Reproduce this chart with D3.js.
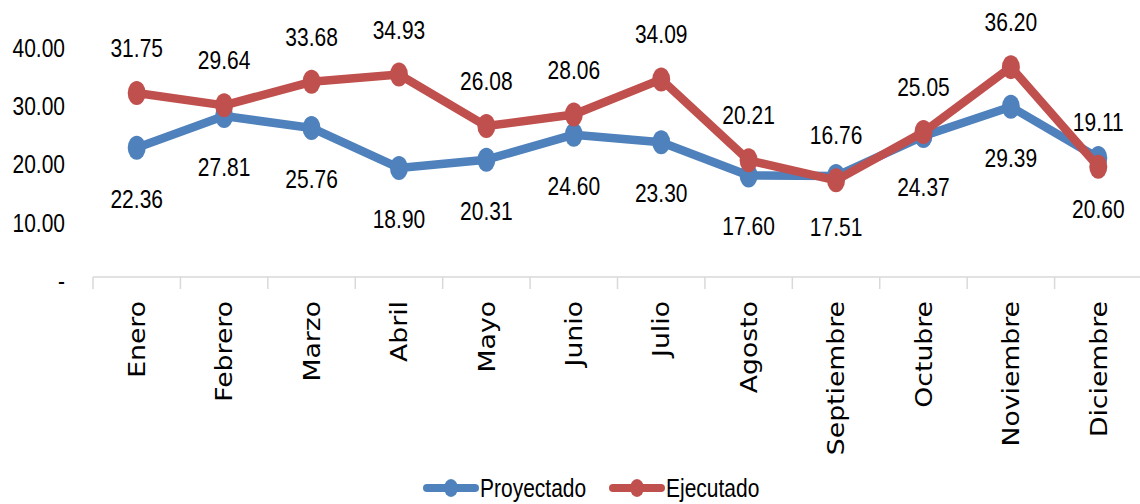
<!DOCTYPE html>
<html>
<head>
<meta charset="utf-8">
<script src="https://cdn.jsdelivr.net/npm/d3@7"></script>
<style>
    body { margin: 0; background: #fff; }
    #chart { display: block; }
    .num { font-family: "Liberation Sans", Arial, sans-serif; font-size: 25px; fill: #000; }
    .month { font-family: "DejaVu Sans", Verdana, sans-serif; font-size: 23px; fill: #000; }
</style>
</head>
<body>
<svg id="chart"></svg>
<script>

var months = ["Enero", "Febrero", "Marzo", "Abril", "Mayo", "Junio", "Julio",
    "Agosto", "Septiembre", "Octubre", "Noviembre", "Diciembre"];

var proyectado = [22.36, 27.81, 25.76, 18.90, 20.31, 24.60, 23.30, 17.60, 17.51, 24.37, 29.39, 20.60];
var ejecutado = [31.75, 29.64, 33.68, 34.93, 26.08, 28.06, 34.09, 20.21, 16.76, 25.05, 36.20, 19.11];

var yTicks = [0, 10, 20, 30, 40];

var seriesNames = ["Proyectado", "Ejecutado"];

// narrow look of the numbers, no condensed face installed
var SQUEEZE = 0.84;

class LineChart {

    constructor(id) {
        this.width = 1140;
        this.height = 504;
        this.svg = d3.select(id)
            .attr("width", this.width)
            .attr("height", this.height);

        this.x = d3.scaleBand().domain(months).range([93, 1142]);
        this.y = d3.scaleLinear().domain([0, 40]).range([278, 45]);

        this.series = [
            {name: seriesNames[0], values: proyectado, color: "#4f81bd", labelDy: 60},
            {name: seriesNames[1], values: ejecutado, color: "#c0504d", labelDy: -36}
        ];
    }

    cx(m) {
        return this.x(m) + this.x.bandwidth() / 2;
    }

    draw() {
        this._drawAxes();
        this.series.forEach(s => this._drawSeries(s));
        this._drawLegend();
    }

    _drawAxes() {
        var svg = this.svg, x = this.x, y = this.y;

        var yAxis = svg.append("g")
            .attr("transform", "translate(65,0)")
            .call(d3.axisLeft(y).tickValues(yTicks).tickSize(0).tickPadding(0)
                .tickFormat(d => d === 0 ? "-" : d3.format(".2f")(d)));
        yAxis.select(".domain").remove();
        yAxis.selectAll("text")
            .attr("class", "num")
            .attr("font-family", null)
            .attr("font-size", null)
            .attr("dy", "0.45em")
            .attr("transform", "scale(" + SQUEEZE + ",1)");

        var base = y(0) - 1;
        svg.append("line")
            .attr("x1", x.range()[0]).attr("x2", x.range()[1])
            .attr("y1", base).attr("y2", base)
            .attr("stroke", "#d9d9d9").attr("stroke-width", 1.5);

        // tick marks between the categories
        var bounds = months.map(m => x(m)).concat([x.range()[1]]);
        svg.append("g").selectAll("line")
            .data(bounds).enter().append("line")
            .attr("x1", d => d).attr("x2", d => d)
            .attr("y1", base).attr("y2", base + 12)
            .attr("stroke", "#d9d9d9").attr("stroke-width", 1.5);

        var self = this;
        svg.append("g").selectAll("text")
            .data(months).enter().append("text")
            .attr("class", "month")
            .attr("text-anchor", "end")
            .attr("dy", "0.36em")
            .attr("transform", d => "translate(" + self.cx(d) + "," + (base + 24) + ") rotate(-90) scale(1.16,1)")
            .text(d => d);
    }

    _drawSeries(s) {
        var self = this, y = this.y;
        var pts = months.map((m, i) => ({m: m, v: s.values[i]}));

        var line = d3.line()
            .x(d => self.cx(d.m))
            .y(d => y(d.v));

        var g = this.svg.append("g");

        g.append("path")
            .datum(pts)
            .attr("d", line)
            .attr("fill", "none")
            .attr("stroke", s.color)
            .attr("stroke-width", 8.5)
            .attr("stroke-linejoin", "round");

        g.selectAll("ellipse")
            .data(pts).enter().append("ellipse")
            .attr("cx", d => self.cx(d.m))
            .attr("cy", d => y(d.v))
            .attr("rx", 9)
            .attr("ry", 12)
            .attr("fill", s.color);

        this.svg.append("g").selectAll("text")
            .data(pts).enter().append("text")
            .attr("class", "num")
            .attr("text-anchor", "middle")
            .attr("transform", d => "translate(" + self.cx(d.m) + "," + (y(d.v) + s.labelDy) + ") scale(" + SQUEEZE + ",1)")
            .text(d => d3.format(".2f")(d.v));
    }

    _drawLegend() {
        var legend = this.svg.append("g").attr("transform", "translate(427,488)");
        var offsets = [0, 186];

        this.series.forEach((s, i) => {
            var item = legend.append("g").attr("transform", "translate(" + offsets[i] + ",0)");
            item.append("line")
                .attr("x1", 0).attr("x2", 48)
                .attr("stroke", s.color).attr("stroke-width", 8)
                .attr("stroke-linecap", "round");
            item.append("ellipse")
                .attr("cx", 24).attr("rx", 7).attr("ry", 9)
                .attr("fill", s.color);
            item.append("text")
                .attr("class", "num")
                .attr("transform", "translate(53,9) scale(" + SQUEEZE + ",1)")
                .text(s.name);
        });
    }
}

var chart = new LineChart("#chart");
chart.draw();

</script>
</body>
</html>
